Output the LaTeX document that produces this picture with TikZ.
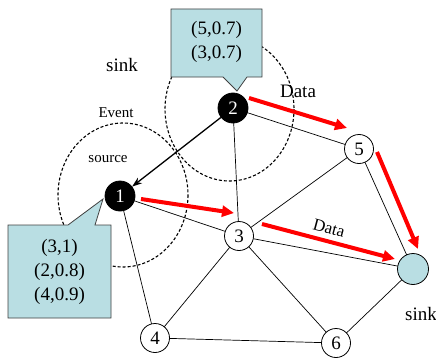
\documentclass[tikz,border=0pt]{standalone}
\usepackage{fontspec}
\setmainfont{Liberation Serif}
\usetikzlibrary{arrows.meta}
\definecolor{paleblue}{RGB}{185,222,227}
\definecolor{datared}{RGB}{255,0,0}
\begin{document}
\begin{tikzpicture}[x=1pt,y=-1pt,
  sensor/.style={circle,draw,line width=0.8pt,fill=white,minimum size=29pt,inner sep=0pt,
    font=\fontsize{19}{19}\selectfont},
  activesensor/.style={sensor,fill=black,text=white,minimum size=30pt},
  sinknode/.style={circle,draw,line width=0.8pt,fill=paleblue,minimum size=31pt,inner sep=0pt},
  radiolink/.style={line width=0.7pt},
  senserange/.style={dash pattern=on 3pt off 2pt,line width=1.1pt},
  dataflow/.style={datared,line width=4pt,-{Triangle[length=12pt,width=11pt]}},
  tablebox/.style={fill=paleblue,draw=black!75,line width=0.8pt},
  lbl/.style={font=\fontsize{19}{24}\selectfont,inner sep=0pt,align=center},
  smalllbl/.style={font=\fontsize{15}{15}\selectfont,inner sep=0pt}
]
\useasboundingbox (0,0) rectangle (436,361);

% sensing ranges of the two event-aware nodes
\draw[senserange] (123,195) ellipse [x radius=65, y radius=72];
\draw[senserange] (229.5,109) ellipse [x radius=64.5, y radius=72];

% node positions
\coordinate (p1) at (120,196);
\coordinate (p2) at (233,108);
\coordinate (p3) at (239,236);
\coordinate (p4) at (155,338);
\coordinate (p5) at (359,149);
\coordinate (p6) at (336,343);
\coordinate (ps) at (413,269);

% radio links
\draw[radiolink] (p1) -- (p3);
\draw[radiolink] (p1) -- (p4);
\draw[radiolink] (p2) -- (p3);
\draw[radiolink] (p2) -- (p5);
\draw[radiolink] (p3) -- (p5);
\draw[radiolink] (p3) -- (p4);
\draw[radiolink] (p3) -- (p6);
\draw[radiolink] (p3) -- (ps);
\draw[radiolink] (p5) -- (ps);
\draw[radiolink] (p4) -- (p6);
\draw[radiolink] (p6) -- (ps);

% sensor nodes
\node[activesensor] (n1) at (p1) {1};
\node[activesensor] (n2) at (p2) {2};
\node[sensor] (n3) at (p3) {3};
\node[sensor] (n4) at (p4) {4};
\node[sensor] (n5) at (p5) {5};
\node[sensor] (n6) at (p6) {6};
\node[sinknode] (sk) at (ps) {};

% request from node 2 to the source
\draw[line width=1.3pt,-{Stealth[length=10pt,width=7pt]}] (n2) -- (n1);

% data flows
\coordinate (fa1) at (249,98);  \coordinate (fa2) at (347,128);
\coordinate (fb1) at (141,199); \coordinate (fb2) at (234,213);
\coordinate (fc1) at (377,152); \coordinate (fc2) at (418,249);
\coordinate (fd1) at (262,224); \coordinate (fd2) at (395,259);
\draw[dataflow] (fa1) -- (fa2);
\draw[dataflow] (fb1) -- (fb2);
\draw[dataflow] (fc1) -- (fc2);
\draw[dataflow] (fd1) -- (fd2);

% tables held by nodes 2 and 1
\draw[tablebox] (171,9) -- (262,9) -- (262,77) -- (247,77) -- (237,91) -- (223,77) -- (171,77) -- cycle;
\node[lbl] (t2) at (216.5,42) {(5,0.7)\\(3,0.7)};
\draw[tablebox] (8,225) -- (68,225) -- (103,199) -- (95,225) -- (111,225) -- (111,318) -- (8,318) -- cycle;
\node[lbl] (t1) at (59.5,272) {(3,1)\\(2,0.8)\\(4,0.9)};

% labels
\node[lbl] (sinkA) at (122,65) {sink};
\node[smalllbl] (ev) at (116,113) {Event};
\node[smalllbl] (src) at (108,159) {source};
\node[lbl] (dA) at (298,91) {Data};
\node[lbl,font=\fontsize{17}{17}\selectfont,rotate=-15] (dB) at (329,228) {Data};
\node[lbl] (sinkB) at (421,314) {sink};
\end{tikzpicture}
\end{document}
